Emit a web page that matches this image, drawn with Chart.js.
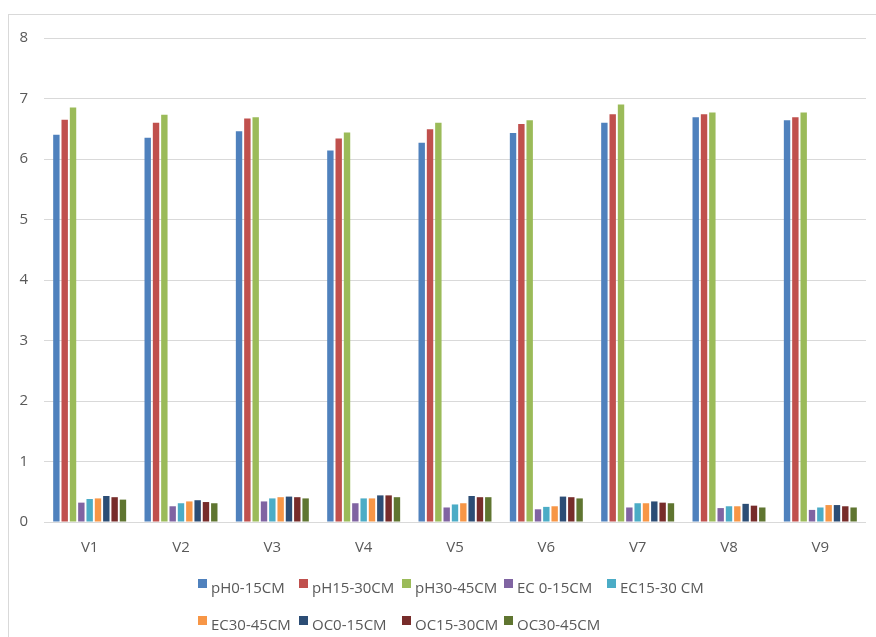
<!DOCTYPE html>
<html>
<head>
<meta charset="utf-8">
<script src="https://cdn.jsdelivr.net/npm/chart.js@4/dist/chart.umd.min.js"></script>
<style>
  html, body { margin: 0; padding: 0; background: #ffffff; overflow: hidden; }
  body { width: 876px; height: 637px; position: relative; }
  #frame {
    position: absolute; left: 8px; top: 14px; width: 1000px; height: 1000px;
    border: 1px solid #d9d9d9; box-sizing: border-box;
  }
  #chart { position: absolute; left: 0; top: 0; }
  #legend { position: absolute; left: 0; top: 0; width: 876px; height: 637px; pointer-events: none; }
  .item {
    position: absolute; height: 20px; line-height: 20px; white-space: nowrap;
    font-family: "Open Sans", sans-serif; font-size: 15px; color: #595959;
    padding-left: 13px;
  }
  .item .box { position: absolute; left: 0; top: 2.5px; width: 8.5px; height: 8.5px; }
</style>
</head>
<body>
<div id="frame"></div>
<canvas id="chart" width="876" height="637"></canvas>
<div id="legend"></div>
<script>
// Soil samples
const categories = ["V1", "V2", "V3", "V4", "V5", "V6", "V7", "V8", "V9"];

// pH by depth
const pH0_15  = [6.40, 6.35, 6.46, 6.14, 6.27, 6.43, 6.60, 6.69, 6.64];
const pH15_30 = [6.65, 6.60, 6.67, 6.34, 6.49, 6.58, 6.74, 6.74, 6.69];
const pH30_45 = [6.85, 6.73, 6.69, 6.44, 6.60, 6.64, 6.90, 6.77, 6.77];

// Electrical conductivity by depth
const EC0_15  = [0.32, 0.26, 0.34, 0.31, 0.24, 0.21, 0.24, 0.23, 0.20];
const EC15_30 = [0.38, 0.31, 0.39, 0.39, 0.29, 0.25, 0.31, 0.26, 0.24];
const EC30_45 = [0.39, 0.34, 0.41, 0.39, 0.31, 0.26, 0.31, 0.26, 0.28];

// Organic carbon by depth
const OC0_15  = [0.43, 0.36, 0.42, 0.44, 0.43, 0.42, 0.34, 0.30, 0.28];
const OC15_30 = [0.41, 0.33, 0.41, 0.44, 0.41, 0.41, 0.32, 0.27, 0.26];
const OC30_45 = [0.37, 0.31, 0.39, 0.41, 0.41, 0.39, 0.31, 0.24, 0.24];

const seriesLabels = ["pH0-15CM", "pH15-30CM", "pH30-45CM", "EC 0-15CM", "EC15-30 CM",
                      "EC30-45CM", "OC0-15CM", "OC15-30CM", "OC30-45CM"];
const seriesValues = [pH0_15, pH15_30, pH30_45, EC0_15, EC15_30, EC30_45, OC0_15, OC15_30, OC30_45];
const seriesColors = ["#4F81BD", "#C0504D", "#9BBB59", "#8064A2", "#4BACC6",
                      "#F79646", "#2C4D75", "#772C2A", "#5F7530"];

// y axis ticks
const yTicks = [0, 1, 2, 3, 4, 5, 6, 7, 8];

const FONT = { family: "'Open Sans', sans-serif", size: 15 };
const TEXT = "#595959";
const GRID = "#d9d9d9";

const chart = new Chart(document.getElementById("chart"), {
  type: "bar",
  data: {
    labels: categories,
    datasets: seriesLabels.map((label, i) => ({
      label,
      data: seriesValues[i],
      backgroundColor: seriesColors[i],
      borderWidth: 0,
      categoryPercentage: 0.82,
      barPercentage: 0.77
    }))
  },
  options: {
    responsive: false,
    animation: false,
    devicePixelRatio: 1,
    layout: { padding: { top: 38, right: 10, bottom: 0, left: 0 } },
    plugins: {
      legend: { display: false },
      tooltip: { enabled: false }
    },
    scales: {
      x: {
        grid: { display: false, drawTicks: false },
        border: { display: false },
        ticks: { color: TEXT, font: FONT, padding: 17, maxRotation: 0 },
        afterFit(scale) { scale.height = 115; }
      },
      y: {
        min: yTicks[0],
        max: yTicks[yTicks.length - 1],
        afterBuildTicks(scale) { scale.ticks = yTicks.map(v => ({ value: v })); },
        grid: { color: GRID, lineWidth: 1, drawTicks: false },
        border: { display: false },
        ticks: { color: TEXT, font: FONT, padding: 16 },
        afterFit(scale) { scale.width = 44; }
      }
    }
  }
});

// Legend laid out as a 5-column grid under the chart, built from the chart's legend items
(function buildLegend() {
  const holder = document.getElementById("legend");
  const items = chart.options.plugins.legend.labels.generateLabels(chart);
  const colX = [198, 299, 402, 504, 607];
  const rowTop = [576.5, 613.5];
  items.forEach((it, i) => {
    const el = document.createElement("div");
    el.className = "item";
    el.style.left = colX[i % 5] + "px";
    el.style.top = rowTop[Math.floor(i / 5)] + "px";
    const box = document.createElement("span");
    box.className = "box";
    box.style.background = it.fillStyle;
    el.appendChild(box);
    el.appendChild(document.createTextNode(it.text));
    holder.appendChild(el);
  });
})();
</script>
</body>
</html>
